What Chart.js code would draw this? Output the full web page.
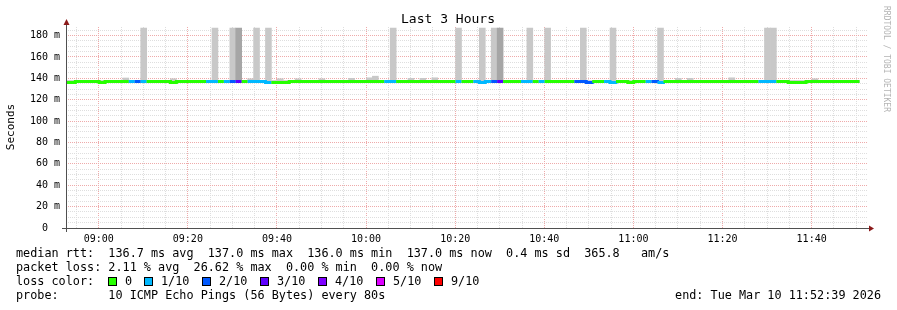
<!DOCTYPE html>
<html>
<head>
<meta charset="utf-8">
<title>Last 3 Hours</title>
<script src="https://cdn.jsdelivr.net/npm/chart.js@4.4.1/dist/chart.umd.min.js"></script>
<style>
    html, body { margin: 0; padding: 0; background: #ffffff; }
    #wrap { width: 897px; height: 310px; }
</style>
</head>
<body>
<div id="wrap"><canvas id="smokeChart" width="897" height="310"></canvas></div>
<script>
// time line of the graph (80 s steps, last 3 hours)
var endTime = '11:52:39';
var spanMinutes = 180;
var stepSeconds = 80;
var firstStepAt = '08:52:05';

// axis labels
var xTickLabels = ['09:00', '09:20', '09:40', '10:00', '10:20', '10:40', '11:00', '11:20', '11:40'];
var yTickLabels = [0, 20, 40, 60, 80, 100, 120, 140, 160, 180];

// median rtt per step (ms)
var medianRtt = [
    136, 136, 137, 137, 137, 137, 136, 137, 137, 137,
    137, 137, 137, 137, 137, 137, 137, 137, 136, 137,
    137, 137, 137, 137, 137, 137, 137, 137, 137, 137,
    137, 137, 137, 137, 136, 136, 136, 136, 137, 137,
    137, 137, 137, 137, 137, 137, 137, 137, 137, 137,
    137, 137, 137, 137, 137, 137, 137, 137, 137, 137,
    137, 137, 137, 137, 137, 137, 137, 137, 137, 137,
    136, 137, 137, 137, 137, 137, 137, 137, 137, 137,
    137, 137, 137, 137, 137, 137, 137, 137, 136, 137,
    137, 137, 136, 137, 137, 136, 137, 137, 137, 137,
    136, 137, 137, 137, 137, 137, 137, 137, 137, 137,
    137, 137, 137, 137, 137, 137, 137, 137, 137, 137,
    137, 137, 136, 136, 136, 137, 137, 137, 137, 137,
    137, 137, 137, 137
];

// lost pings per step (out of 10)
var lossPings = [
    0, 0, 0, 0, 0, 0, 0, 0, 0, 0,
    0, 0.5, 1.5, 0.5, 0, 0, 0, 0, 0, 0,
    0, 0, 0, 0, 0.5, 0.5, 0, 0.5, 1.5, 2.66,
    0, 0.5, 0.5, 0.5, 0.5, 0, 0, 0, 0, 0,
    0, 0, 0, 0, 0, 0, 0, 0, 0, 0,
    0, 0, 0, 0, 0.5, 0.5, 0, 0, 0, 0,
    0, 0, 0, 0, 0, 0, 0.5, 0, 0, 0.5,
    0.5, 0.5, 1.5, 2.3, 0, 0, 0, 0.5, 0.5, 0,
    0.5, 0, 0, 0, 0, 0, 1.5, 1.5, 1.5, 0,
    0, 0.5, 0.5, 0, 0, 0, 0, 0, 0.5, 1.5,
    0.5, 0, 0, 0, 0, 0, 0, 0, 0, 0,
    0, 0, 0, 0, 0, 0, 0, 0.5, 0.5, 0.5,
    0, 0, 0, 0, 0, 0, 0, 0, 0, 0,
    0, 0, 0, 0
];

// smoke: lowest and highest ping per step (ms)
var smokeLo = [
    135, 135, 136, 136, 136, 136, 135, 136, 136, 136,
    136, 136, 136, 136, 136, 136, 136, 136, 135, 136,
    136, 136, 136, 136, 136, 136, 136, 136, 136, 136,
    136, 136, 136, 136, 135, 135, 135, 135, 136, 136,
    136, 136, 136, 136, 136, 136, 136, 136, 136, 136,
    136, 136, 136, 136, 136, 136, 136, 136, 136, 136,
    136, 136, 136, 136, 136, 136, 136, 136, 136, 136,
    135, 136, 136, 136, 136, 136, 136, 136, 136, 136,
    136, 136, 136, 136, 136, 136, 136, 136, 135, 136,
    136, 136, 135, 136, 136, 135, 136, 136, 136, 136,
    135, 136, 136, 136, 136, 136, 136, 136, 136, 136,
    136, 136, 136, 136, 136, 136, 136, 136, 136, 136,
    136, 136, 135, 135, 135, 136, 136, 136, 136, 136,
    136, 136, 136, 136
];
var smokeHi = [
    138, 138, 138, 138, 138, 138, 138, 138, 138, 138,
    140.3, 138, 138, 187, 138, 138, 138, 138, 139.6, 138,
    138, 138, 138, 138, 138, 187, 138, 138, 187, null,
    138, 139.6, 187, 138, 187, 138, 139.6, 138, 138, 139.6,
    138, 138, 138, 139.6, 138, 138, 138, 138, 140, 138,
    138, 140.5, 142, 138, 138, 187, 138, 138, 140, 138,
    140, 138, 140.5, 138, 138, 138, 187, 138, 138, 138,
    187, 138, 187, null, 138, 138, 138, 138, 187, 138,
    138, 187, 138, 138, 138, 138, 138, 187, 138, 138,
    138, 138, 187, 138, 138, 138, 138, 138, 138, 138,
    187, 138, 138, 140, 138, 140, 138, 138, 138, 138,
    138, 138, 140.5, 138, 138, 138, 138, 138, 187, 187,
    138, 138, 138, 138, 138, 138, 139.6, 138, 138, 138,
    138, 138, 138, 138
];
// steps where most pings sit high (dense smoke)
var smokeDenseHi = [
    null, null, null, null, null, null, null, null, null, null,
    null, null, null, null, null, null, null, null, null, null,
    null, null, null, null, null, null, null, null, null, 187,
    null, null, null, null, null, null, null, null, null, null,
    null, null, null, null, null, null, null, null, null, null,
    null, null, null, null, null, null, null, null, null, null,
    null, null, null, null, null, null, null, null, null, null,
    null, null, null, 187, null, null, null, null, null, null,
    null, null, null, null, null, null, null, null, null, null,
    null, null, null, null, null, null, null, null, null, null,
    null, null, null, null, null, null, null, null, null, null,
    null, null, null, null, null, null, null, null, null, null,
    null, null, null, null, null, null, null, null, null, null,
    null, null, null, null
];

// loss colour bins
var lossBins = [0, 1, 2, 3, 4, 5, 9];
var lossNames = ['0', '1/10', '2/10', '3/10', '4/10', '5/10', '9/10'];
var lossColors = ['#26ff00', '#00b8ff', '#0059ff', '#5e00ff', '#7e00ff', '#dd00ff', '#ff0000'];

function toMinutes(s) {
    var p = s.split(':').map(Number);
    return p[0] * 60 + p[1] + (p[2] || 0) / 60;
}

function lossColor(l) {
    for (var i = 0; i < lossBins.length; i++) {
        if (l <= lossBins[i]) return lossColors[i];
    }
    return lossColors[lossColors.length - 1];
}

function hhmm(v) {
    var m = Math.round(v);
    return String(Math.floor(m / 60)).padStart(2, '0') + ':' + String(m % 60).padStart(2, '0');
}

var xMax = toMinutes(endTime);
var xMin = xMax - spanMinutes;
var stepMin = stepSeconds / 60;
var step0 = toMinutes(firstStepAt);

// median line: one point at the start of each step, plus the end of the last one
var medianPoints = medianRtt.map(function (v, k) { return { x: step0 + k * stepMin, y: v }; });
medianPoints.push({ x: step0 + medianRtt.length * stepMin, y: medianRtt[medianRtt.length - 1] });

function smokeBars(his) {
    var out = [];
    his.forEach(function (hi, k) {
        if (hi === null) return;
        out.push({ x: step0 + (k + 0.5) * stepMin, y: [smokeLo[k], hi] });
    });
    return out;
}

var xTicks = [];
for (var t = Math.ceil(xMin / 5) * 5; t <= xMax; t += 5) xTicks.push(t);
var yTicks = [];
for (var v = 0; v <= 185; v += 5) yTicks.push(v);

var monoFont = '"DejaVu Sans Mono", "Liberation Mono", monospace';
var minorGrid = '#dedede';
var majorGrid = '#eeaaaa';

var rrdDecor = {
    id: 'rrdDecor',
    afterDraw: function (chart) {
        var ctx = chart.ctx;
        var a = chart.chartArea;
        ctx.save();

        // axes
        ctx.strokeStyle = '#505050';
        ctx.lineWidth = 1;
        ctx.beginPath();
        ctx.moveTo(62, a.bottom + 0.5);
        ctx.lineTo(a.right + 2, a.bottom + 0.5);
        ctx.moveTo(a.left + 0.5, a.bottom + 4);
        ctx.lineTo(a.left + 0.5, a.top - 3);
        ctx.stroke();
        ctx.fillStyle = '#8b1a1a';
        ctx.beginPath();
        ctx.moveTo(a.left + 0.5, a.top - 8);
        ctx.lineTo(a.left - 2.5, a.top - 2);
        ctx.lineTo(a.left + 3.5, a.top - 2);
        ctx.closePath();
        ctx.fill();
        ctx.beginPath();
        ctx.moveTo(a.right + 6, a.bottom + 0.5);
        ctx.lineTo(a.right + 1, a.bottom - 2.5);
        ctx.lineTo(a.right + 1, a.bottom + 3.5);
        ctx.closePath();
        ctx.fill();

        // title
        ctx.fillStyle = '#000';
        ctx.textBaseline = 'middle';
        ctx.textAlign = 'center';
        ctx.font = '13px ' + monoFont;
        ctx.fillText('Last 3 Hours', 448, 20);

        // vertical unit label
        ctx.save();
        ctx.translate(11, 127);
        ctx.rotate(-Math.PI / 2);
        ctx.font = '11px ' + monoFont;
        ctx.fillText('Seconds', 0, 0);
        ctx.restore();

        // watermark
        ctx.save();
        ctx.translate(886, 59);
        ctx.rotate(Math.PI / 2);
        ctx.font = '8px ' + monoFont;
        ctx.fillStyle = '#b4b4b4';
        ctx.fillText('RRDTOOL / TOBI OETIKER', 0, 0);
        ctx.restore();

        // legend
        ctx.textAlign = 'left';
        ctx.font = '11.8px ' + monoFont;
        ctx.fillStyle = '#000';
        var x0 = 16;
        ctx.fillText('median rtt:  136.7 ms avg  137.0 ms max  136.0 ms min  137.0 ms now  0.4 ms sd  365.8   am/s', x0, 254);
        ctx.fillText('packet loss: 2.11 % avg  26.62 % max  0.00 % min  0.00 % now', x0, 268);
        ctx.fillText('loss color:', x0, 282);
        ctx.fillText('probe:       10 ICMP Echo Pings (56 Bytes) every 80s', x0, 296);

        var cw = ctx.measureText('M').width;
        var sx = Math.round(x0 + 13 * cw);
        lossNames.forEach(function (name, i) {
            ctx.fillStyle = lossColors[i];
            ctx.fillRect(sx, 277, 9, 9);
            ctx.strokeStyle = '#000';
            ctx.strokeRect(sx + 0.5, 277.5, 8, 8);
            ctx.fillStyle = '#000';
            ctx.fillText(name, sx + 17, 282);
            sx = Math.round(sx + 17 + ctx.measureText(name).width + 12.3);
        });

        ctx.textAlign = 'right';
        ctx.fillText('end: Tue Mar 10 11:52:39 2026', 881, 296);
        ctx.restore();
    }
};

var ctx = document.getElementById('smokeChart').getContext('2d');
var smokeChart = new Chart(ctx, {
    type: 'line',
    data: {
        datasets: [{
            type: 'line',
            label: 'median rtt',
            data: medianPoints,
            stepped: 'before',
            borderWidth: 3,
            borderColor: lossColors[0],
            borderCapStyle: 'butt',
            borderJoinStyle: 'miter',
            pointRadius: 0,
            fill: false,
            segment: {
                borderColor: function (c) { return lossColor(lossPings[c.p0DataIndex] || 0); }
            }
        }, {
            type: 'bar',
            label: 'dense smoke',
            data: smokeBars(smokeDenseHi),
            backgroundColor: '#a6a6a6',
            borderWidth: 0,
            grouped: false,
            barPercentage: 1,
            categoryPercentage: 1
        }, {
            type: 'bar',
            label: 'smoke',
            data: smokeBars(smokeHi),
            backgroundColor: '#c8c8c8',
            borderWidth: 0,
            grouped: false,
            barPercentage: 1,
            categoryPercentage: 1
        }]
    },
    options: {
        responsive: false,
        animation: false,
        layout: { padding: { left: 0, right: 29, top: 27, bottom: 0 } },
        plugins: {
            legend: { display: false },
            tooltip: { enabled: false }
        },
        scales: {
            x: {
                type: 'linear',
                min: xMin,
                max: xMax,
                offset: false,
                afterBuildTicks: function (s) { s.ticks = xTicks.map(function (v) { return { value: v }; }); },
                afterFit: function (s) { s.height = 82; },
                grid: {
                    offset: false,
                    drawTicks: false,
                    lineWidth: 1,
                    color: function (c) { return xTickLabels.indexOf(hhmm(c.tick.value)) >= 0 ? majorGrid : minorGrid; }
                },
                border: { display: false, dash: [1, 1] },
                ticks: {
                    autoSkip: false,
                    maxRotation: 0,
                    padding: 5,
                    color: '#000',
                    font: { family: monoFont, size: 10 },
                    callback: function (v) { var l = hhmm(v); return xTickLabels.indexOf(l) >= 0 ? l : ''; }
                }
            },
            y: {
                min: 0,
                max: 188,
                afterBuildTicks: function (s) { s.ticks = yTicks.map(function (v) { return { value: v }; }); },
                afterFit: function (s) { s.width = 66; },
                grid: {
                    drawTicks: false,
                    lineWidth: 1,
                    color: function (c) { return yTickLabels.indexOf(c.tick.value) >= 0 ? majorGrid : minorGrid; }
                },
                border: { display: false, dash: [1, 1] },
                ticks: {
                    autoSkip: false,
                    padding: 6,
                    color: '#000',
                    font: { family: monoFont, size: 10 },
                    callback: function (v) {
                        if (yTickLabels.indexOf(v) < 0) return '';
                        return v === 0 ? '  0  ' : String(v).padStart(3, ' ') + ' m';
                    }
                }
            }
        }
    },
    plugins: [rrdDecor]
});
</script>
</body>
</html>
